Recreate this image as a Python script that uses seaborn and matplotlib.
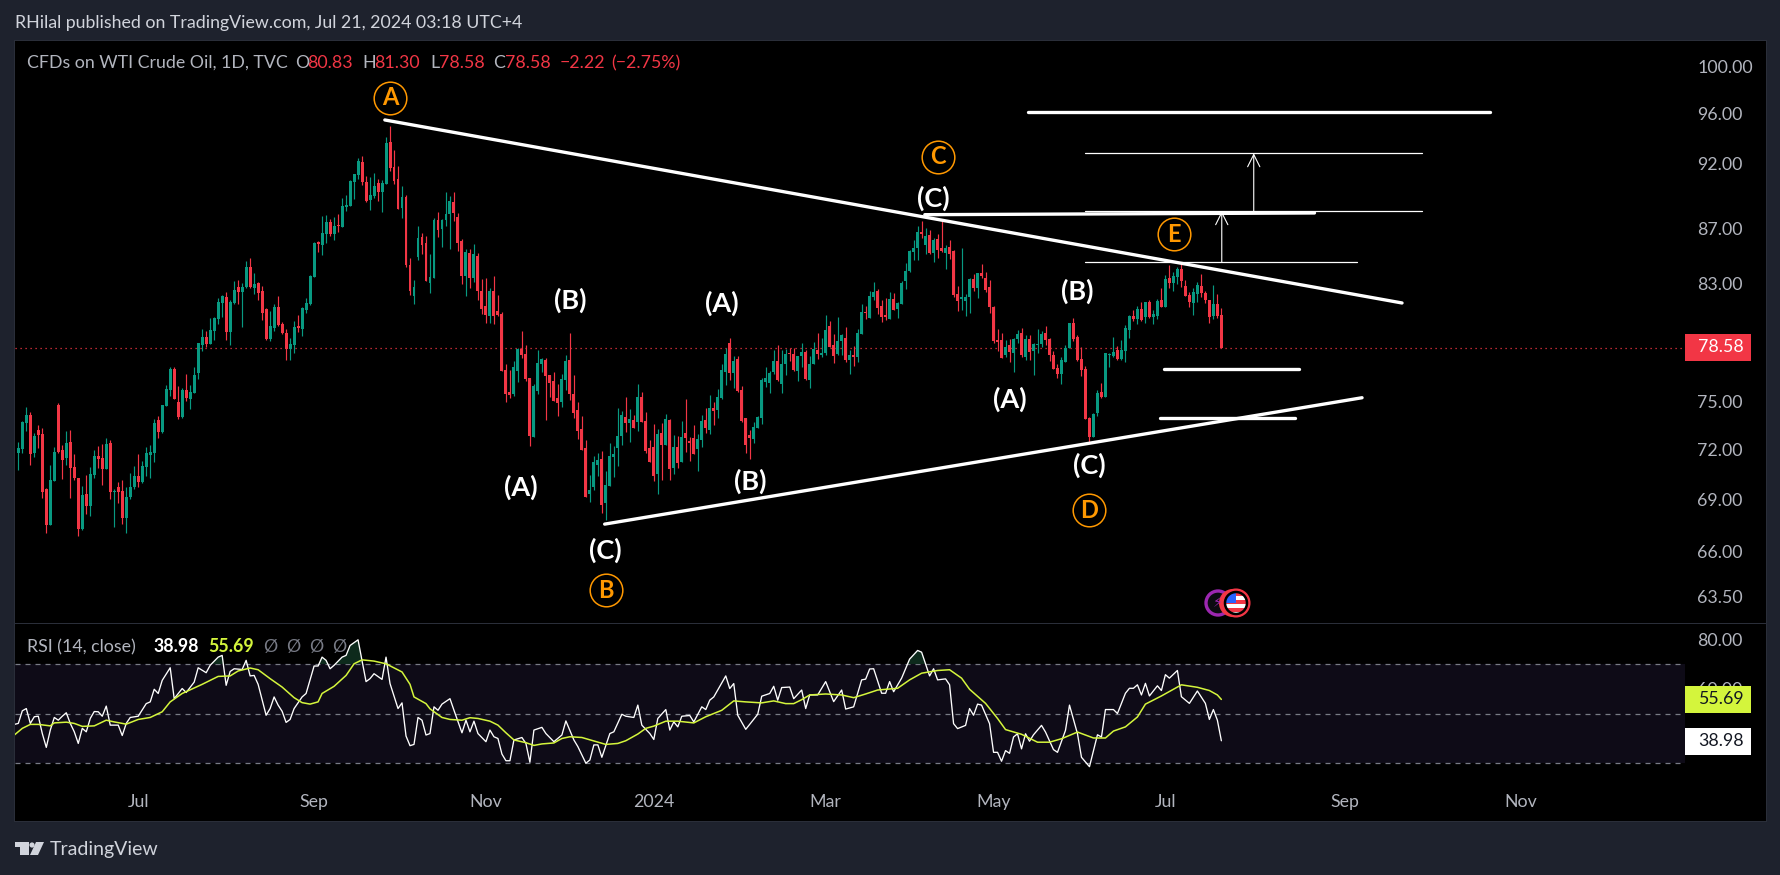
import matplotlib
matplotlib.use("Agg")
import matplotlib.pyplot as plt
import matplotlib.patches as mpatches
import matplotlib.transforms as mtrans
from matplotlib.ticker import NullLocator, FixedLocator, FixedFormatter
import numpy as np
import seaborn as sns

# daily candles
open_ = [71.78,72.03,73.67,74.18,71.78,73.22,72.96,69.61,67.46,70.09,
    74.81,71.97,71.48,72.46,70.93,70.27,67.25,69.31,68.6,70.45,
    71.6,71.48,70.81,72.4,69.43,69.73,69.49,67.89,69.13,69.73,
    70.39,70.03,70.93,71.66,71.78,73.86,73.09,74.75,75.77,77.15,
    75.0,74.05,75.77,75.19,75.58,76.89,78.76,79.3,78.83,79.71,
    80.53,81.65,82.07,79.64,81.65,82.77,82.42,82.77,84.21,82.7,
    83.05,82.49,81.23,79.16,79.91,81.37,80.19,79.57,78.48,78.75,
    80.05,79.84,81.16,81.58,83.49,86.03,85.81,86.62,87.51,86.62,
    87.29,87.14,88.65,88.73,90.57,91.12,92.14,90.57,89.18,89.49,
    90.49,89.8,90.41,93.73,91.75,90.81,88.58,89.41,84.35,82.14,
    84.92,86.4,85.95,83.05,83.41,87.66,86.99,87.66,88.12,89.03,
    87.89,86.1,83.55,85.21,83.41,84.99,82.48,81.43,80.73,82.48,
    81.08,80.85,77.08,75.64,75.51,77.02,78.48,78.14,76.56,72.76,
    75.7,77.48,77.74,76.75,76.36,75.25,75.0,76.43,77.74,75.51,
    74.47,73.25,72.09,69.3,69.72,71.05,71.42,68.75,69.78,71.54,
    72.1,72.84,74.04,73.66,73.86,73.73,75.32,73.8,72.1,72.16,
    70.5,73.03,72.28,73.86,70.86,72.16,71.23,73.03,72.53,72.72,
    72.04,72.59,73.86,73.22,74.61,74.49,75.26,76.95,78.89,76.88,
    77.78,75.78,73.98,72.9,72.66,73.35,73.98,76.3,76.23,76.95,
    77.65,76.17,77.48,78.22,78.15,77.01,77.98,78.29,76.43,77.48,
    78.42,78.08,78.22,80.05,78.75,78.15,79.02,79.22,77.75,78.08,
    77.95,79.5,81.0,80.59,82.05,82.48,81.42,80.8,80.52,81.91,
    81.21,81.56,83.19,83.91,85.29,85.58,86.77,85.8,86.54,85.22,
    86.24,85.58,85.22,85.65,85.36,82.27,81.91,81.77,82.05,83.33,
    82.68,83.77,83.4,82.76,81.35,79.09,79.09,78.08,78.75,78.22,
    79.16,79.57,77.95,79.16,78.34,78.75,78.82,79.57,79.16,78.08,
    77.22,76.82,77.61,78.55,80.25,79.3,77.81,77.15,73.96,72.78,
    74.29,75.64,75.31,78.08,78.0,78.41,77.81,78.34,79.77,80.73,
    80.52,81.22,80.68,81.71,80.66,80.73,81.85,81.36,83.4,83.04,
    83.48,84.06,82.83,82.2,81.64,82.27,82.83,82.34,81.85,80.73,
    81.57,80.83]
high = [72.46,73.79,74.68,74.37,73.0,73.52,73.35,69.65,71.05,72.16,
    74.94,72.28,73.16,73.22,71.72,70.27,69.79,70.45,70.93,71.97,
    72.22,72.34,72.71,72.59,69.61,70.03,70.15,69.73,70.57,70.99,
    71.72,71.3,72.16,72.28,73.92,74.11,74.81,76.1,77.28,77.28,
    76.04,75.9,76.82,76.1,77.28,78.9,79.85,79.71,80.61,80.68,
    82.0,82.21,82.42,81.86,83.2,83.27,83.05,84.64,84.85,83.77,
    83.13,82.84,81.3,81.09,81.58,82.14,80.32,79.84,79.23,80.39,
    80.81,81.37,82.0,83.63,86.03,86.1,87.96,88.04,87.74,87.89,
    88.12,89.34,89.57,90.72,91.2,92.45,92.61,91.04,90.96,91.28,
    90.81,90.72,94.14,95.03,93.09,91.82,90.25,89.57,84.85,83.27,
    87.21,86.69,86.47,85.14,87.81,88.27,87.74,89.79,89.48,89.79,
    88.2,86.25,85.51,85.51,85.88,85.21,83.34,83.41,82.69,83.55,
    82.2,80.99,77.48,77.08,77.67,78.55,79.7,78.75,76.56,76.16,
    78.41,77.87,77.87,76.75,76.95,76.16,76.82,78.07,79.56,76.75,
    75.0,74.09,72.59,70.45,71.6,71.79,71.91,70.69,72.4,72.21,
    74.61,74.42,75.32,74.55,74.17,76.17,75.65,74.36,72.59,73.6,
    73.28,73.66,74.23,73.92,72.9,72.84,73.8,75.19,72.78,73.53,
    72.96,74.17,74.61,75.45,75.0,75.84,77.48,78.55,79.22,78.04,
    78.04,76.04,73.98,73.22,73.73,74.11,76.56,77.28,77.01,78.42,
    78.75,78.42,78.48,78.55,78.55,78.04,78.89,78.42,78.04,78.95,
    79.57,79.22,80.8,80.39,79.5,80.66,79.5,80.0,78.42,78.68,
    79.84,81.56,81.42,82.46,83.12,82.63,81.84,81.98,82.41,82.34,
    81.7,83.19,84.49,85.44,86.17,87.21,87.59,87.07,86.92,86.32,
    86.62,87.59,85.8,86.17,85.44,82.84,85.58,82.27,83.4,83.69,
    83.77,84.42,83.84,83.26,81.42,79.84,79.57,79.09,79.16,79.22,
    79.77,79.91,79.43,79.43,78.89,79.84,79.7,80.04,79.23,78.34,
    77.48,77.95,78.75,80.25,80.59,79.43,78.61,77.35,74.03,74.29,
    75.77,76.22,78.21,78.21,79.3,78.68,79.09,80.11,80.8,81.15,
    81.43,81.71,81.71,81.85,81.15,81.92,82.69,83.62,84.35,83.84,
    84.2,84.49,83.26,82.41,82.69,83.11,83.69,82.48,81.85,82.9,
    82.27,81.30]
low = [70.75,71.8,73.16,71.05,71.54,72.09,69.07,67.05,67.46,70.09,
    71.78,70.21,71.05,69.07,70.15,66.84,67.2,68.13,68.01,70.27,
    70.87,69.85,70.81,69.01,67.38,68.78,67.54,67.05,69.01,69.61,
    69.73,69.97,70.39,70.27,71.23,72.71,73.03,74.75,75.38,75.19,
    73.92,73.98,75.06,74.56,75.58,76.49,78.36,78.63,78.83,79.1,
    80.19,80.67,79.09,78.75,81.58,81.58,79.98,82.7,82.7,82.28,
    81.86,80.46,79.09,79.02,79.71,80.05,79.5,77.74,77.74,78.2,
    79.64,79.37,80.95,81.51,83.49,85.29,85.07,85.95,86.47,86.18,
    86.77,87.14,88.35,88.73,89.26,90.81,90.33,89.03,88.42,89.34,
    89.11,88.27,90.41,91.43,90.41,88.5,87.81,84.21,82.21,81.58,
    84.7,85.14,83.2,82.34,83.41,86.4,85.65,87.21,85.51,87.59,
    85.35,82.98,82.13,82.69,83.12,81.85,80.87,80.24,80.24,80.17,
    80.73,77.02,75.0,75.25,75.38,76.3,77.87,76.36,72.19,72.76,
    75.51,76.95,73.84,75.32,75.06,74.09,74.67,75.77,75.13,73.96,
    72.65,71.97,69.12,68.83,69.54,70.39,68.21,67.77,69.78,70.33,
    70.99,72.28,73.09,72.47,73.35,73.16,73.73,71.79,71.23,70.06,
    69.31,70.14,72.28,70.14,70.5,70.86,71.23,71.85,71.29,71.73,
    70.68,72.16,73.03,72.96,73.53,73.98,75.19,76.1,76.43,75.91,
    75.65,73.73,71.79,71.42,72.41,73.35,73.6,75.97,75.58,76.82,
    76.36,75.58,76.75,77.65,77.01,76.36,77.28,76.43,75.91,77.48,
    77.82,77.95,78.08,78.62,77.55,78.08,78.08,77.62,76.82,77.35,
    77.62,79.5,80.52,80.59,81.84,80.86,80.32,80.46,80.52,81.14,
    80.59,81.56,82.63,83.84,84.71,84.71,86.32,85.15,85.15,84.56,
    84.86,85.29,84.06,84.78,82.05,81.07,81.14,80.73,80.93,82.46,
    81.98,83.4,82.41,80.93,78.88,78.34,77.88,77.95,77.62,76.95,
    78.89,77.95,77.75,77.75,76.75,78.21,78.61,78.75,77.68,77.15,
    76.55,76.16,77.61,78.55,79.02,77.68,76.68,73.9,72.47,72.78,
    74.09,75.25,75.31,77.28,77.95,77.75,77.75,77.61,79.23,80.38,
    80.18,80.38,80.25,80.59,80.18,80.52,81.36,81.36,82.69,82.48,
    82.97,82.76,82.13,81.36,80.8,81.71,82.06,81.64,80.25,80.52,
    80.59,78.58]
close = [72.09,73.73,74.18,71.74,72.84,72.9,69.43,67.46,70.15,71.85,
    71.85,71.35,72.38,70.87,70.27,67.25,69.25,68.6,70.51,71.6,
    71.41,70.81,72.34,69.43,69.49,69.43,67.89,69.13,69.73,70.39,
    70.03,70.99,71.78,71.85,73.67,73.09,74.81,75.84,77.15,75.19,
    74.05,75.77,75.25,75.64,76.76,78.9,79.3,78.83,79.78,80.61,
    81.72,82.14,79.64,81.72,82.56,82.42,82.77,84.21,82.77,82.98,
    82.35,80.95,79.13,80.05,81.37,80.12,79.57,78.48,78.82,79.98,
    79.91,81.3,81.65,83.56,85.95,85.88,86.7,87.51,86.62,87.22,
    87.22,88.73,88.8,90.65,91.2,92.22,90.57,89.11,89.57,90.25,
    89.8,90.49,93.65,91.67,90.65,88.5,89.41,84.35,82.49,82.77,
    86.32,85.8,83.2,83.5,87.66,86.92,87.66,88.12,89.1,88.2,
    85.95,83.55,85.29,83.41,85.14,82.48,81.22,80.8,82.48,80.73,
    80.8,77.02,75.51,75.45,77.28,78.48,78.07,76.49,72.82,76.03,
    77.54,77.81,76.69,76.23,75.06,74.93,76.49,77.67,75.51,74.26,
    73.13,71.97,69.12,69.54,71.23,71.35,68.63,69.84,71.6,71.72,
    72.84,74.17,73.66,73.92,73.35,75.32,73.73,71.91,71.23,70.38,
    72.96,72.28,73.92,70.8,72.16,71.17,72.78,72.72,72.41,71.73,
    72.66,73.8,73.35,74.61,74.42,75.32,77.08,78.15,76.88,77.71,
    75.71,73.8,72.28,72.72,73.41,74.04,76.43,76.56,76.88,77.71,
    76.43,77.51,78.15,78.15,77.08,77.98,78.29,76.49,77.51,78.48,
    78.15,78.22,79.77,78.62,78.02,79.02,79.43,77.75,78.08,77.95,
    79.57,81.0,80.93,82.12,82.41,81.28,80.66,80.66,81.91,81.14,
    81.63,83.05,83.91,85.36,85.58,86.77,86.62,86.47,85.22,86.17,
    85.44,85.36,85.58,85.15,82.2,81.77,82.05,82.05,83.33,82.68,
    83.77,83.55,82.56,81.35,79.02,78.95,77.88,78.62,78.28,79.16,
    79.5,78.08,79.16,78.28,78.82,78.82,79.5,79.09,78.08,77.15,
    76.82,77.75,78.55,80.25,79.16,77.75,77.08,73.9,72.78,74.22,
    75.58,75.31,78.21,78.14,78.28,77.81,78.41,79.91,80.73,80.52,
    81.22,80.45,81.71,80.66,80.87,81.78,81.36,83.33,83.04,83.55,
    84.06,83.19,82.13,81.71,82.41,82.9,82.34,81.85,80.66,81.57,
    80.73,78.58]

# RSI turning points (bar number, value)
rsi_bar = [-1,0,1,2,3,4,5,6,7,8,9,10,11,12,13,14,15,16,17,18,19,20,21,22,23,24,25,26,27,28,30,32,33,34,35,36,38,39,41,42,44,45,47,48,50,51,52,53,54,56,57,58,59,60,62,63,64,65,66,67,68,69,71,72,74,75,76,77,78,79,81,82,83,85,87,88,89,91,92,93,95,96,97,98,99,100,101,102,103,104,105,106,108,109,111,112,113,114,115,117,118,119,120,121,122,123,124,126,127,128,129,131,132,134,136,137,139,140,142,143,144,145,146,148,149,151,152,154,155,156,158,159,160,162,163,164,165,166,168,169,171,172,173,174,177,178,179,180,182,185,186,188,189,190,191,193,194,196,
    197,198,200,202,204,206,207,209,211,212,213,214,216,217,218,219,221,223,225,226,228,229,230,232,233,234,235,237,238,239,240,241,243,244,245,246,247,248,249,250,251,252,253,254,256,257,259,260,262,263,265,266,268,270,271,272,274,275,277,278,279,280,281,282,283,285,286,287,288,290,291,293,295,297,298,299,300,301]
rsi_val = [45.6,46.0,51.1,52.0,46.0,48.7,48.9,41.9,36.3,43.3,48.4,47.3,48.9,50.3,46.0,42.6,37.9,44.0,42.6,48.0,50.8,50.7,48.9,53.0,45.3,45.3,45.3,41.1,46.0,48.4,48.9,54.0,54.7,59.8,58.1,63.4,68.5,56.0,60.1,58.5,62.7,68.5,66.5,69.5,72.8,73.5,61.4,67.0,68.1,67.8,71.5,65.2,65.4,61.8,49.3,52.0,56.7,53.4,50.9,46.4,47.6,52.0,56.7,58.1,69.2,69.2,72.8,71.5,68.1,69.5,72.8,73.5,77.5,79.8,62.9,64.1,66.1,63.8,72.8,62.1,52.0,54.3,40.9,37.0,37.5,48.4,47.3,41.3,41.9,52.7,51.3,53.8,56.0,51.3,42.2,47.3,42.6,46.9,41.9,38.6,43.3,40.6,39.9,33.6,30.9,30.9,39.3,40.3,37.9,30.3,43.3,44.4,41.9,38.6,41.3,47.0,39.3,36.6,29.9,31.2,37.3,37.3,32.3,41.9,42.6,49.7,48.9,48.4,53.4,45.3,41.9,39.5,48.0,51.6,43.3,46.6,44.6,48.9,49.2,46.6,52.7,51.6,55.4,56.7,65.2,60.1,62.1,49.3,43.6,49.7,57.0,58.1,61.0,55.4,60.5,60.7,56.0,59.5,
    52.0,57.5,57.5,62.9,54.8,59.5,51.8,52.7,63.6,63.9,68.0,68.1,58.2,58.2,62.9,58.8,64.3,72.0,75.5,74.8,65.2,68.1,63.6,64.0,61.6,45.9,43.9,45.2,52.0,49.3,53.8,53.4,45.9,34.3,34.3,30.7,35.0,33.9,40.5,41.8,35.7,41.8,38.8,41.4,45.2,42.5,35.4,34.3,43.2,53.4,41.8,32.3,28.5,41.4,40.5,51.6,51.6,50.0,58.2,60.2,60.2,61.6,57.5,62.2,57.1,61.2,59.3,65.7,64.3,67.4,56.8,54.1,59.1,54.1,47.6,51.6,47.3,38.98]
# RSI moving average
ma_bar = [-1,1,3,5,8,9,12,14,16,19,22,24,27,30,33,36,38,41,46,50,53,55,58,60,63,66,69,71,73,75,76,79,82,84,86,89,92,96,98,99,102,103,106,108,111,113,115,118,120,122,124,127,129,131,134,136,138,141,144,147,150,152,155,157,159,162,165,169,172,176,179,182,186,189,192,194,196,
    198,202,206,209,212,215,220,223,226,230,233,236,238,242,245,247,251,255,258,261,265,269,272,274,277,280,282,286,289,291,295,298,300,301]
ma_val = [41.3,44.0,45.6,45.6,45.0,46.2,46.5,46.0,44.8,45.0,47.3,46.6,45.7,47.6,48.4,50.7,54.7,58.1,61.8,65.0,65.2,67.2,68.4,67.7,64.1,60.7,56.4,54.4,53.8,54.7,58.1,61.0,65.4,70.1,71.7,71.2,70.1,66.8,61.8,56.7,54.0,51.9,48.4,47.6,47.3,48.3,48.0,46.9,45.3,42.2,39.3,38.2,37.1,37.7,38.1,39.9,40.6,40.3,38.9,37.5,37.9,39.0,41.7,44.0,44.9,46.9,46.9,46.2,48.7,51.3,55.1,54.7,54.3,55.1,54.0,54.0,55.6,
    57.5,57.9,57.5,56.4,57.9,59.5,60.2,63.6,66.3,67.4,67.7,64.3,59.8,54.1,48.0,43.5,41.6,38.4,38.4,39.8,42.5,40.1,40.1,42.9,44.6,48.6,53.8,57.1,59.8,61.6,60.6,59.3,57.5,55.69]

price_ticks = [100, 96, 92, 87, 83, 75, 72, 69, 66, 63.5]
rsi_ticks = [80, 60]
time_bars = [30, 74, 117, 159, 202, 244, 287, 332, 376]
time_labels = ["Jul", "Sep", "Nov", "2024", "Mar", "May", "Jul", "Sep", "Nov"]

# Elliott wave marks: label, bar, price
white_waves = [("(A)", 125.8, 69.72), ("(B)", 138, 81.85), ("(C)", 146.9, 66.05),
    ("(A)", 176, 81.64), ("(B)", 183.1, 70.08), ("(C)", 228.9, 89.33),
    ("(A)", 248.1, 75.18), ("(B)", 264.9, 82.48), ("(C)", 267.9, 71.05)]
orange_waves = [("A", 93, 97.33), ("B", 147, 63.83), ("C", 230, 92.53),
    ("D", 267.9, 68.36), ("E", 289.1, 86.61)]

# drawn lines: x0, x1, y0, y1
trend_lines = [(91.7, 346.2, 95.51, 81.64), (146.7, 336.2, 67.54, 75.27),
    (252.6, 368.2, 96.17, 96.17), (226.8, 324.3, 88.06, 88.19),
    (286.7, 320.4, 77.12, 77.12), (285.6, 319.3, 73.95, 73.95)]
thin_lines = [(267, 351.2, 92.82), (267, 351.2, 88.32), (267, 335, 84.54)]
arrows = [(309.1, 88.32, 92.82), (301.1, 84.54, 88.32)]

W, H = 1781, 875
BG = "#1e222d"
GREEN = "#089981"
RED = "#f23645"
GREY = "#b2b5be"
LIME = "#d4f53c"
ORANGE = "#ff9800"
TXT = 12.8

sns.set_theme(style="dark")
plt.rcParams["font.family"] = ["Lato", "DejaVu Sans"]
plt.rcParams["axes.grid"] = False

fig = plt.figure(figsize=(W / 100, H / 100), dpi=100, facecolor=BG)
PX = mtrans.IdentityTransform()


def rect(x0, y0, x1, y1, color, zorder=5, **kw):
    p = mpatches.Rectangle((x0, H - y1), x1 - x0, y1 - y0, transform=PX,
                           facecolor=color, edgecolor="none", zorder=zorder, **kw)
    fig.add_artist(p)
    return p


def circle(x, y, r, face, edge="none", lw=0, zorder=6):
    p = mpatches.Circle((x, H - y), r, transform=PX, facecolor=face,
                        edgecolor=edge, linewidth=lw, zorder=zorder)
    fig.add_artist(p)
    return p


def label(x, y, s, color=GREY, size=TXT, **kw):
    kw.setdefault("va", "center")
    fig.text(x / W, 1 - y / H, s, color=color, fontsize=size, zorder=8, **kw)


# black chart frame
rect(14, 40, 1767, 822, "#2a2e39", zorder=-2)
rect(15, 41, 1766, 821, "black", zorder=-1)

ax = fig.add_axes([15 / W, 1 - 623 / H, 1670 / W, 582 / H], facecolor="black")
ax_rsi = fig.add_axes([15 / W, 1 - 783 / H, 1670 / W, 160 / H], facecolor="black")

bars = np.arange(len(close))
o, h, l, c = map(np.array, (open_, high, low, close))
colors = np.where(c >= o, GREEN, RED)
ax.vlines(bars, l, h, colors=colors, lw=0.85, zorder=2)
ax.bar(bars, np.abs(c - o), bottom=np.minimum(o, c), width=0.74, color=colors,
       linewidth=0, zorder=3)
ax.axhline(close[-1], color=RED, lw=0.9, ls=(0, (1, 3)), zorder=1)

ax.set_yscale("log")
ax.set_xlim(-0.83, 417)
ax.set_ylim(62.05, 102.2)
ax.yaxis.set_major_locator(FixedLocator(price_ticks))
ax.yaxis.set_major_formatter(FixedFormatter([f"{t:.2f}" for t in price_ticks]))
ax.yaxis.set_minor_locator(NullLocator())
ax.yaxis.tick_right()
ax.tick_params(axis="y", length=0, pad=9, labelcolor=GREY, labelsize=TXT, which="both")
ax.set_xticks([])

for x0, x1, y0, y1 in trend_lines:
    ax.plot([x0, x1], [y0, y1], color="white", lw=2.4, solid_capstyle="round", zorder=5)
for x0, x1, y0 in thin_lines:
    ax.plot([x0, x1], [y0, y0], color="white", lw=0.9, zorder=5)
for x0, y0, y1 in arrows:
    ax.annotate("", xy=(x0, y1), xytext=(x0, y0), zorder=5,
                arrowprops=dict(arrowstyle="->", color="white", lw=0.8,
                                mutation_scale=22, shrinkA=0, shrinkB=0))
for s, x0, y0 in white_waves:
    ax.text(x0, y0, s, color="white", fontsize=19.5, fontweight="bold",
            ha="center", va="center", zorder=6)
for s, x0, y0 in orange_waves:
    ax.plot([x0], [y0], "o", ms=23.5, mfc="none", mec=ORANGE, mew=1.1, zorder=6)
    ax.text(x0, y0, s, color=ORANGE, fontsize=17, fontweight="bold",
            ha="center", va="center", zorder=6)

# RSI pane
ax_rsi.axhspan(30, 70, color="#0e0b17", lw=0, zorder=0)
for lvl in (70, 50, 30):
    ax_rsi.axhline(lvl, color="#787b86", lw=0.9, ls=(0, (4, 4)), zorder=1)
ax_rsi.fill_between(rsi_bar, 70, rsi_val, where=np.array(rsi_val) > 70, interpolate=True,
                    color="#0d2a1c", lw=0, zorder=1)
sns.lineplot(x=rsi_bar, y=rsi_val, ax=ax_rsi, color="white", lw=0.95, estimator=None, zorder=3)
sns.lineplot(x=ma_bar, y=ma_val, ax=ax_rsi, color=LIME, lw=1.1, estimator=None, zorder=4)
ax_rsi.set_xlim(-0.83, 417)
ax_rsi.set_ylim(21.9, 86.6)
ax_rsi.yaxis.tick_right()
ax_rsi.set_yticks(rsi_ticks, [f"{t:.2f}" for t in rsi_ticks])
ax_rsi.set_xticks(time_bars, time_labels)
ax_rsi.tick_params(axis="y", length=0, pad=9, labelcolor=GREY, labelsize=TXT)
ax_rsi.tick_params(axis="x", length=0, pad=8, labelcolor=GREY, labelsize=TXT)

for a in (ax, ax_rsi):
    for sp in a.spines.values():
        sp.set_visible(False)

# separator between panes
rect(15, 622.5, 1766, 623.5, "#2a2e39", zorder=4)

# price tags on the axis
rect(1685, 334, 1751, 361, RED, zorder=5)
label(1744, 347.5, "78.58", color="white", ha="right")
rect(1685, 686, 1751, 713, LIME, zorder=5)
label(1744, 699.5, "55.69", color="#131722", ha="right")
rect(1685, 728, 1751, 755, "white", zorder=5)
label(1744, 741.5, "38.98", color="#131722", ha="right")

# header and legends
label(15, 23, "RHilal published on TradingView.com, Jul 21, 2024 03:18 UTC+4", color="#d1d4dc")
label(27, 63, "CFDs on WTI Crude Oil, 1D, TVC")
for x0, s, col in [(295, "O", GREY), (307, "80.83", RED), (362, "H", GREY), (374, "81.30", RED),
                   (430, "L", GREY), (439, "78.58", RED), (493, "C", GREY), (505, "78.58", RED),
                   (560, "\u22122.22", RED), (611, "(\u22122.75%)", RED)]:
    label(x0, 63, s, color=col)
label(27, 647, "RSI (14, close)")
label(153, 647, "38.98", color="white", fontweight="bold")
label(208, 647, "55.69", color=LIME, fontweight="bold")
for x0 in (263, 286, 309, 332):
    label(x0, 647, "\u00d8", color="#787b86")

# logo
label(50, 849, "TradingView", color="#d1d4dc", size=14)
rect(15, 842, 29, 847, "#d1d4dc")
rect(20, 847, 29, 855, "#d1d4dc")
circle(32, 845, 2.6, "#d1d4dc")
fig.add_artist(mpatches.Polygon([(36, H - 842), (44, H - 842), (38, H - 855), (30, H - 855)],
                                transform=PX, facecolor="#d1d4dc", edgecolor="none", zorder=6))

# event icons under the last bars
circle(1218, 603, 12, "#0b0b10", "#9c27b0", 2.4)
label(1218, 603, "\u26a1", color="#9c27b0", size=10, ha="center", family=["DejaVu Sans"])
circle(1233, 603, 12.5, "black", RED, 2.2, zorder=6)
circle(1236, 603, 13, "black", RED, 2.2, zorder=6)
disc = circle(1236, 603, 10.5, "white", zorder=7)
for y0 in (592, 600, 608):
    s = rect(1225, y0, 1247, y0 + 4, RED, zorder=7.1)
    s.set_clip_path(disc)
canton = rect(1225, 592, 1236, 603, "#2962ff", zorder=7.2)
canton.set_clip_path(disc)
circle(1236, 603, 11, "none", "black", 1.8, zorder=7.3)

fig.savefig("out.png", dpi=100, facecolor=BG)
